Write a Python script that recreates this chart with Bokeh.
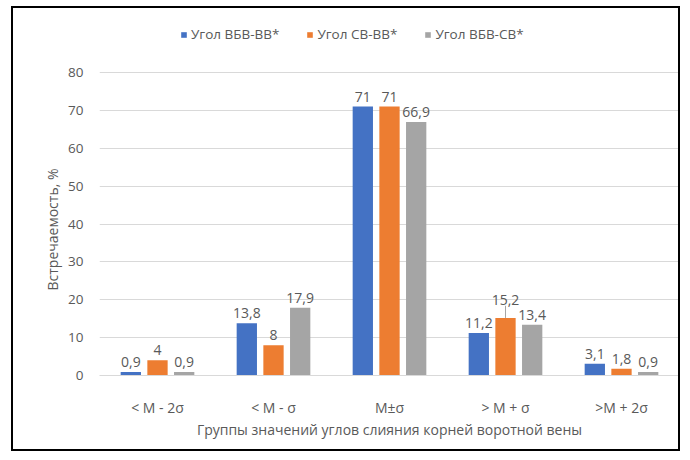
from bokeh.plotting import figure
from bokeh.models import (ColumnDataSource, FactorRange, Range1d, Legend, LegendItem,
                          FixedTicker, Spacer, Title)
from bokeh.layouts import column, row
from bokeh.transform import dodge
from bokeh.core.properties import value
from bokeh.embed import file_html
from bokeh.resources import INLINE

# ---- data ----
categories = ["< M - 2σ", "< M - σ", "M±σ", "> M + σ", ">M + 2σ"]
series_names = ["Угол ВБВ-ВВ*", "Угол СВ-ВВ*", "Угол ВБВ-СВ*"]
vbb_vv = [0.9, 13.8, 71, 11.2, 3.1]
sv_vv = [4, 8, 71, 15.2, 1.8]
vbb_sv = [0.9, 17.9, 66.9, 13.4, 0.9]
y_ticks = [0, 10, 20, 30, 40, 50, 60, 70, 80]
x_title = "Группы значений углов слияния корней воротной вены"
y_title = "Встречаемость, %"

colors = ["#4472C4", "#ED7D31", "#A5A5A5"]
offsets = [-0.23, 0.0, 0.23]
bar_w = 0.175
FONT = "Open Sans"
TXT = "#595959"

# frame extends above 80 to leave room for the legend inside the plot area
Y_TOP = 80 * 355 / 303


def fmt(v):
    return f"{v:g}".replace(".", ",")


p = figure(x_range=FactorRange(*categories, range_padding=0), y_range=Range1d(0, Y_TOP),
           width=669, height=445, output_backend="svg", toolbar_location=None,
           min_border_left=86, min_border_right=3, min_border_top=12, min_border_bottom=78)
p.styles = {"border": "2px solid black"}
p.outline_line_color = None
p.background_fill_color = "white"
p.border_fill_color = "white"

items = []
for name, vals, col, off in zip(series_names, [vbb_vv, sv_vv, vbb_sv], colors, offsets):
    labels = [fmt(v) for v in vals]
    src = ColumnDataSource(dict(cat=categories, val=vals, lbl=labels))
    r = p.vbar(x=dodge("cat", off, range=p.x_range), top="val", width=bar_w, source=src,
               fill_color=col, line_color=None)
    items.append(LegendItem(label=name, renderers=[r]))
    # labels (the 15,2 label is lifted with a leader line)
    normal = [i for i, v in enumerate(vals) if not (name == series_names[1] and v == 15.2)]
    nsrc = ColumnDataSource(dict(cat=[categories[i] for i in normal],
                                 val=[vals[i] for i in normal],
                                 lbl=[labels[i] for i in normal]))
    p.text(x=dodge("cat", off, range=p.x_range), y="val", text="lbl", source=nsrc,
           text_align="center", text_baseline="bottom", y_offset=-5,
           text_font=value(FONT), text_font_size="14px", text_color=TXT)
    lifted = [i for i in range(len(vals)) if i not in normal]
    if lifted:
        lsrc = ColumnDataSource(dict(cat=[categories[i] for i in lifted],
                                     val=[vals[i] for i in lifted],
                                     top=[vals[i] + 3.2 for i in lifted],
                                     lbl=[labels[i] for i in lifted]))
        p.segment(x0=dodge("cat", off, range=p.x_range), y0="val",
                  x1=dodge("cat", off, range=p.x_range), y1="top", source=lsrc,
                  line_color="#A6A6A6", line_width=1)
        p.text(x=dodge("cat", off, range=p.x_range), y="top", text="lbl", source=lsrc,
               text_align="center", text_baseline="bottom", y_offset=-1,
               text_font=value(FONT), text_font_size="14px", text_color=TXT)

legend = Legend(items=items, orientation="horizontal", location=(81, 332),
                border_line_color=None, background_fill_alpha=0,
                label_text_font=FONT, label_text_font_size="13.5px", label_text_color=TXT,
                glyph_width=7, glyph_height=7, label_standoff=4, spacing=27,
                padding=0, margin=0, label_height=14)
p.add_layout(legend, "center")

# axes
p.yaxis.ticker = FixedTicker(ticks=y_ticks)
p.yaxis.axis_line_color = None
p.yaxis.major_tick_line_color = None
p.yaxis.minor_tick_line_color = None
p.yaxis.major_label_standoff = 10
p.yaxis.major_label_text_font = FONT
p.yaxis.major_label_text_font_size = "13.5px"
p.yaxis.major_label_text_color = TXT

ytitle = Title(text=y_title, align="left", offset=85, standoff=8,
               text_font=FONT, text_font_size="14px", text_font_style="normal",
               text_color=TXT)
p.add_layout(ytitle, "left")

p.xaxis.axis_line_color = "#D9D9D9"
p.xaxis.major_tick_line_color = None
p.xaxis.minor_tick_line_color = None
p.xaxis.major_label_standoff = 16
p.xaxis.major_label_text_font = FONT
p.xaxis.major_label_text_font_size = "14px"
p.xaxis.major_label_text_color = TXT
p.xaxis.axis_label = x_title
p.xaxis.axis_label_text_font = FONT
p.xaxis.axis_label_text_font_size = "14px"
p.xaxis.axis_label_text_font_style = "normal"
p.xaxis.axis_label_text_color = TXT
p.xaxis.axis_label_standoff = 0

p.xgrid.grid_line_color = None
p.ygrid.grid_line_color = "#D9D9D9"

page = column(Spacer(height=6), row(Spacer(width=11), p))
open("out.html", "w").write(file_html(page, INLINE))
